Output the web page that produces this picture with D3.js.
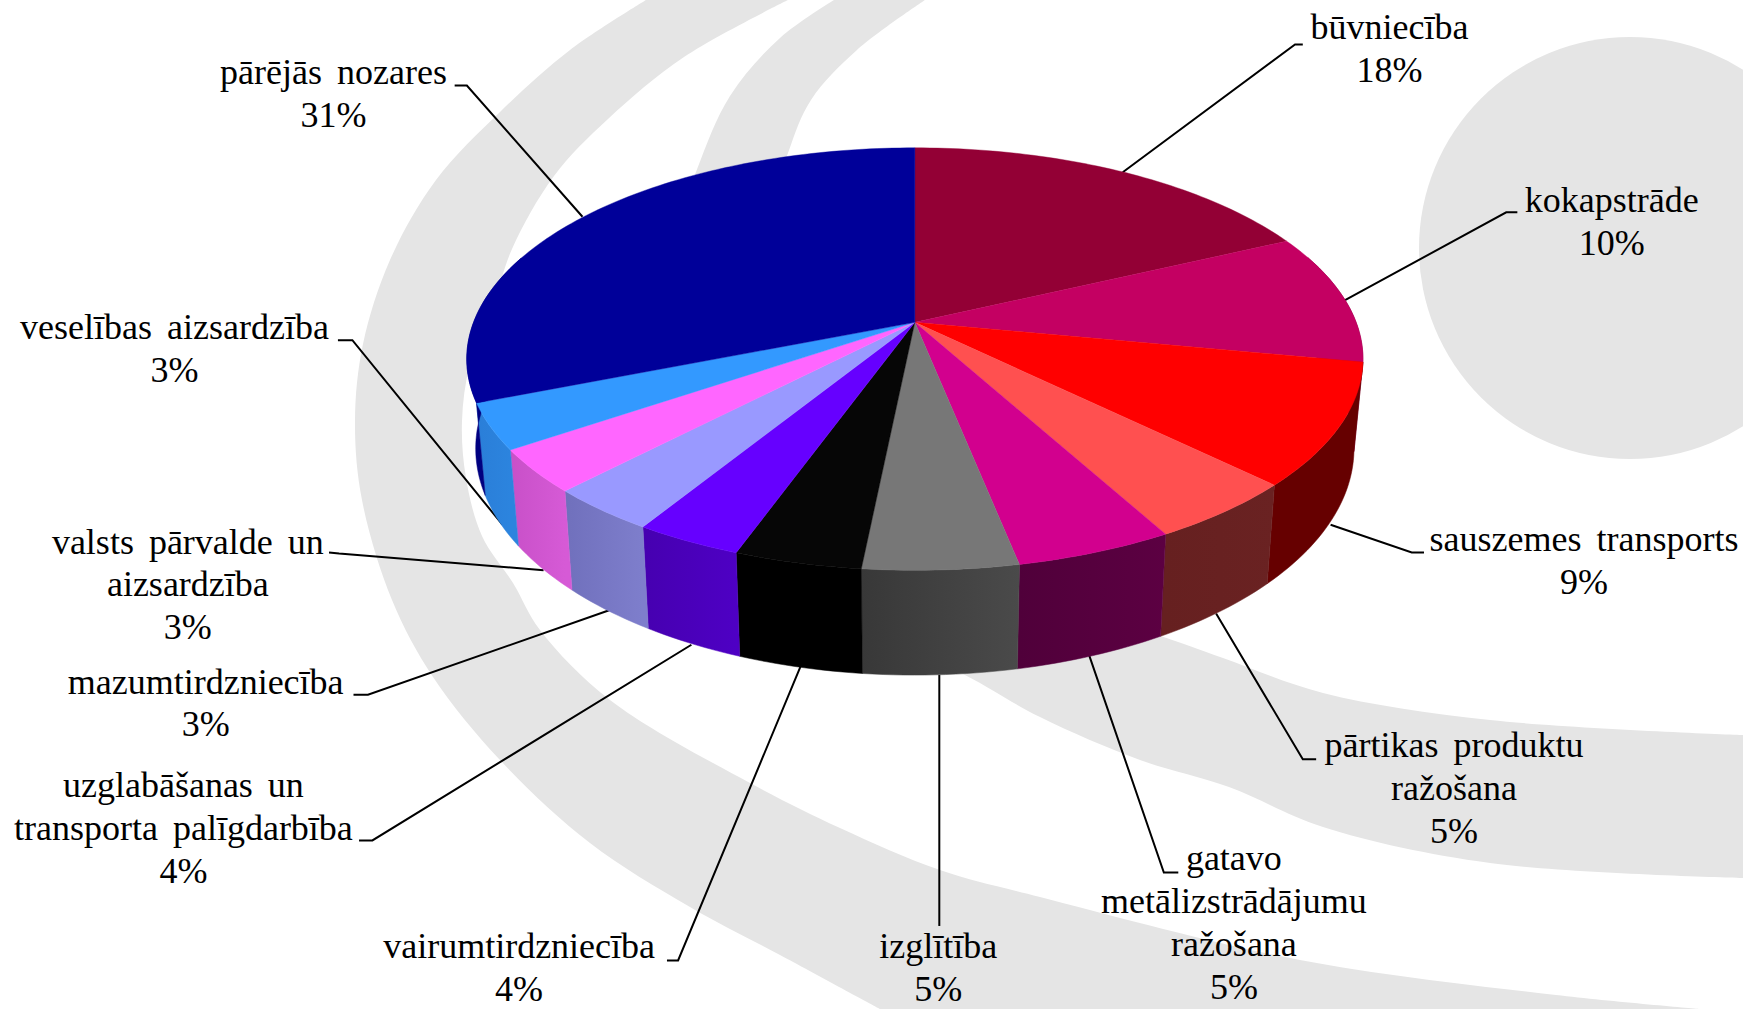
<!DOCTYPE html>
<html>
<head>
<meta charset="utf-8">
<style>
html,body{margin:0;padding:0;background:#fff;overflow:hidden}
svg{display:block}
text{font-family:"Liberation Serif","Times New Roman",serif;font-size:36px;fill:#000;word-spacing:6px;text-anchor:middle}
</style>
<script src="https://cdn.jsdelivr.net/npm/d3@7/dist/d3.min.js"></script>
</head>
<body>
<svg id="chart" width="1743" height="1009"></svg>
<script>
// Labels as printed on the chart, one array per line block
const categories = [
  ["būvniecība"],
  ["kokapstrāde"],
  ["sauszemes transports"],
  ["pārtikas produktu","ražošana"],
  ["gatavo","metālizstrādājumu","ražošana"],
  ["izglītība"],
  ["vairumtirdzniecība"],
  ["uzglabāšanas un","transporta palīgdarbība"],
  ["mazumtirdzniecība"],
  ["valsts pārvalde un","aizsardzība"],
  ["veselības aizsardzība"],
  ["pārējās nozares"]
];
const percentLabels = ["18%","10%","9%","5%","5%","5%","4%","4%","3%","3%","3%","31%"];
// Slice shares
const shares = [18,10,9.3,4.7,4.85,4.75,3.9,3.3,3.4,3.3,3.5,31];
const topColors   = ["#930035","#C40062","#FF0000","#FF5050","#D2008E","#777777","#060606","#6600FF","#9999FF","#FF66FF","#3399FF","#000099"];
const sideStart   = ["#660025","#84003F","#660000","#6A2222","#5C0042","#4A4A4A","#000000","#4E00C4","#7E7ECC","#D65AD6","#2C84DE","#000080"];
const sideEnd     = ["#660025","#84003F","#660000","#662020","#50003A","#383838","#000000","#4600B0","#7070BC","#C850C8","#2A7ED8","#000080"];

// Label placement in reference-preview units (1568 wide)
const labelX = [1250,1450,1425,1308,1110,844,467,165,185,169,157,300];
const labelY = [25,181,486,671,773,852,852,707,614,488,295,66];
const lineStep = 38.5;
const leaders = [
  [[1010,155],[1165,40],[1172,40]],
  [[1210,270],[1355,191],[1365,191]],
  [[1197,472],[1270,497],[1281,497]],
  [[1094,552],[1172,683],[1184,683]],
  [[980,590],[1047,785],[1060,785]],
  [[845,607],[845,833]],
  [[720,600],[610,864],[600,864]],
  [[622,580],[335,756],[323,756]],
  [[548,549],[331,625],[318,625]],
  [[489,513],[305,498],[296,497]],
  [[452,472],[317,306],[304,306]],
  [[524,195],[420,77],[409,77]]
];

// Backdrop swooshes: outer and inner edges (page pixels)
const band1Outer = [[646,0],[570,50],[501,111],[436,180],[390,260],[363,344],[355,421],[362,500],[392,600],[433,677],[500,760],[590,843],[690,907],[780,955],[880,1009]];
const band1Inner = [[1700,1009],[1556,995],[1300,960],[1040,897],[940,870],[840,828],[750,783],[610,700],[540,630],[513,583],[482,536],[466,478],[462,421],[470,364],[493,306],[512,249],[554,176],[608,119],[684,57],[788,0]];
const band2Outer = [[834,0],[780,38],[730,96],[696,172],[660,280],[665,400],[720,520],[830,610],[965,675],[1040,717],[1140,760],[1229,787],[1323,827],[1490,863],[1743,878]];
const band2Inner = [[1743,735],[1490,720],[1323,693],[1223,658],[1157,635],[1000,590],[860,510],[770,400],[750,280],[788,153],[811,100],[857,50],[925,0]];
const backdropDisc = {cx:1630, cy:248, r:211};

const S = 1743/1568;
const svg = d3.select("#chart");
const defs = svg.append("defs");

// Perspective model of the pie (preview units)
const cx = 823, cy = 290, A = 397, B = 184.3, K = 0.1737;
const wallX = 0.98, wallY = 1.073, wallCy = 368;

function topPoint(t){
  const u = Math.sin(t), v = -Math.cos(t), w = 1 - K*v;
  return [cx + A*u/w, cy + B*v/w];
}
function bottomPoint(t){
  const p = topPoint(t);
  return [cx + wallX*(p[0]-cx), wallCy + wallY*(p[1]-cy)];
}
const toPage = p => [p[0]*S, p[1]*S];

const pie = d3.pie().sort(null).value(d => d);
const arcs = pie(shares);
const angleSamples = (a,b) => {
  const n = Math.max(2, Math.ceil((b-a)/0.02));
  return d3.range(n+1).map(i => a + (b-a)*i/n);
};
const pathLine = d3.line();

// Backdrop
const curve = d3.line().curve(d3.curveCatmullRom.alpha(0.5));
const band = (o,i) => curve(o) + "L" + curve(i).slice(1) + "Z";
const bg = svg.append("g").attr("fill","#E5E5E5");
bg.append("circle").attr("cx",backdropDisc.cx).attr("cy",backdropDisc.cy).attr("r",backdropDisc.r);
bg.append("path").attr("d",band(band1Outer,band1Inner));
bg.append("path").attr("d",band(band2Outer,band2Inner));

// Leaders
svg.append("g").attr("fill","none").attr("stroke","#000").attr("stroke-width",2)
  .selectAll("path").data(leaders).join("path")
  .attr("d",d => pathLine(d.map(toPage)));

// Walls (only front-facing part shows; the top disc covers the rest)
arcs.forEach((a,i) => {
  const ts = angleSamples(a.startAngle, a.endAngle);
  const front = ts.filter(t => -Math.cos(t) > -0.35);
  if (front.length < 2) return;
  const upper = front.map(topPoint), lower = front.map(bottomPoint).reverse();
  const gid = "wall"+i;
  const lg = defs.append("linearGradient").attr("id",gid).attr("gradientUnits","userSpaceOnUse")
    .attr("x1",upper[0][0]*S).attr("x2",upper[upper.length-1][0]*S).attr("y1",0).attr("y2",0);
  lg.append("stop").attr("offset",0).attr("stop-color",sideStart[i]);
  lg.append("stop").attr("offset",1).attr("stop-color",sideEnd[i]);
  svg.append("path").attr("d",pathLine(upper.concat(lower).map(toPage))+"Z")
    .attr("fill",`url(#${gid})`).attr("stroke",`url(#${gid})`).attr("stroke-width",0.5);
});

// Top surface
svg.append("g").selectAll("path").data(arcs).join("path")
  .attr("d",a => pathLine([[cx,cy]].concat(angleSamples(a.startAngle,a.endAngle).map(topPoint)).map(toPage))+"Z")
  .attr("fill",(a,i)=>topColors[i]).attr("stroke",(a,i)=>topColors[i]).attr("stroke-width",0.4);

// Labels
const g = svg.append("g");
categories.forEach((lines,i) => {
  lines.concat([percentLabels[i]]).forEach((t,j) => {
    g.append("text").attr("x",labelX[i]*S).attr("y",(labelY[i]+10+j*lineStep)*S).text(t);
  });
});
</script>
</body>
</html>
